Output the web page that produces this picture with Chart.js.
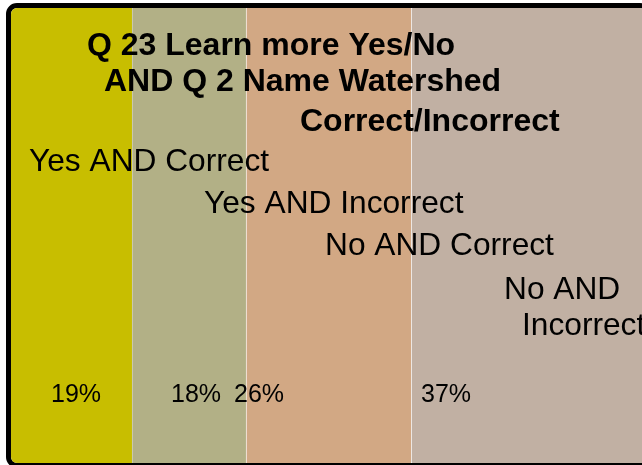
<!DOCTYPE html>
<html>
<head>
<meta charset="utf-8">
<script src="https://cdn.jsdelivr.net/npm/chart.js@4/dist/chart.umd.min.js"></script>
<style>
  html, body { margin: 0; padding: 0; background: #ffffff; overflow: hidden; width: 642px; height: 465px; }
  #frame {
    position: absolute; left: 6px; top: 3px;
    width: 635px; height: 455px;
    border: 5px solid #000000; border-radius: 11px;
    overflow: hidden; background: #ffffff;
  }
  #chart { display: block; }
</style>
</head>
<body>
<div id="frame"><canvas id="chart" width="635" height="455"></canvas></div>
<script>
// Survey breakdown: Q23 (learn more yes/no) crossed with Q2 (watershed named correctly)
const categories = ['Yes AND Correct', 'Yes AND Incorrect', 'No AND Correct', 'No AND Incorrect'];
const shares = [19, 18, 26, 37];
const titleLines = ['Q 23 Learn more Yes/No', 'AND Q 2 Name Watershed', 'Correct/Incorrect'];
const segmentColors = ['#c8be00', '#b2b086', '#d2a884', '#c1b0a3'];

// Text placement inside the plot (canvas pixels)
const titleSpots = [[76, 47], [93, 83], [289, 123]];
const nameSpots = [
  [[18, 163]],
  [[193, 205]],
  [[314, 247]],
  [[493, 291], [511, 327]]
];
const nameLines = [['Yes AND Correct'], ['Yes AND Incorrect'], ['No AND Correct'], ['No AND', 'Incorrect']];
const valueSpots = [40, 160, 223, 410];
const valueBaseline = 394;

const textPlugin = {
  id: 'slideText',
  afterDatasetsDraw(chart) {
    const ctx = chart.ctx;
    ctx.save();
    ctx.fillStyle = '#000000';
    ctx.textBaseline = 'alphabetic';
    ctx.textAlign = 'left';

    ctx.font = 'bold 32px "Liberation Sans", Arial, sans-serif';
    titleLines.forEach((t, i) => ctx.fillText(t, titleSpots[i][0], titleSpots[i][1]));

    ctx.font = '31.7px "Liberation Sans", Arial, sans-serif';
    nameLines.forEach((lines, i) => {
      lines.forEach((t, j) => ctx.fillText(t, nameSpots[i][j][0], nameSpots[i][j][1]));
    });

    ctx.font = '25px "Liberation Sans", Arial, sans-serif';
    shares.forEach((v, i) => ctx.fillText(v + '%', valueSpots[i], valueBaseline));
    ctx.restore();
  }
};

new Chart(document.getElementById('chart'), {
  type: 'bar',
  data: {
    labels: ['Responses'],
    datasets: categories.map((name, i) => ({
      label: name,
      data: [shares[i]],
      backgroundColor: segmentColors[i],
      borderColor: 'rgba(255,255,255,0.4)',
      borderWidth: { left: i === 0 ? 0 : 1, right: 0, top: 0, bottom: 0 },
      borderSkipped: false,
      borderRadius: 2,
      categoryPercentage: 1,
      barPercentage: 1
    }))
  },
  options: {
    indexAxis: 'y',
    responsive: false,
    animation: false,
    layout: { padding: 0 },
    plugins: {
      legend: { display: false },
      title: { display: false },
      tooltip: { enabled: false }
    },
    scales: {
      x: { stacked: true, min: 0, max: 100, display: false },
      y: { stacked: true, display: false }
    }
  },
  plugins: [textPlugin]
});
</script>
</body>
</html>
